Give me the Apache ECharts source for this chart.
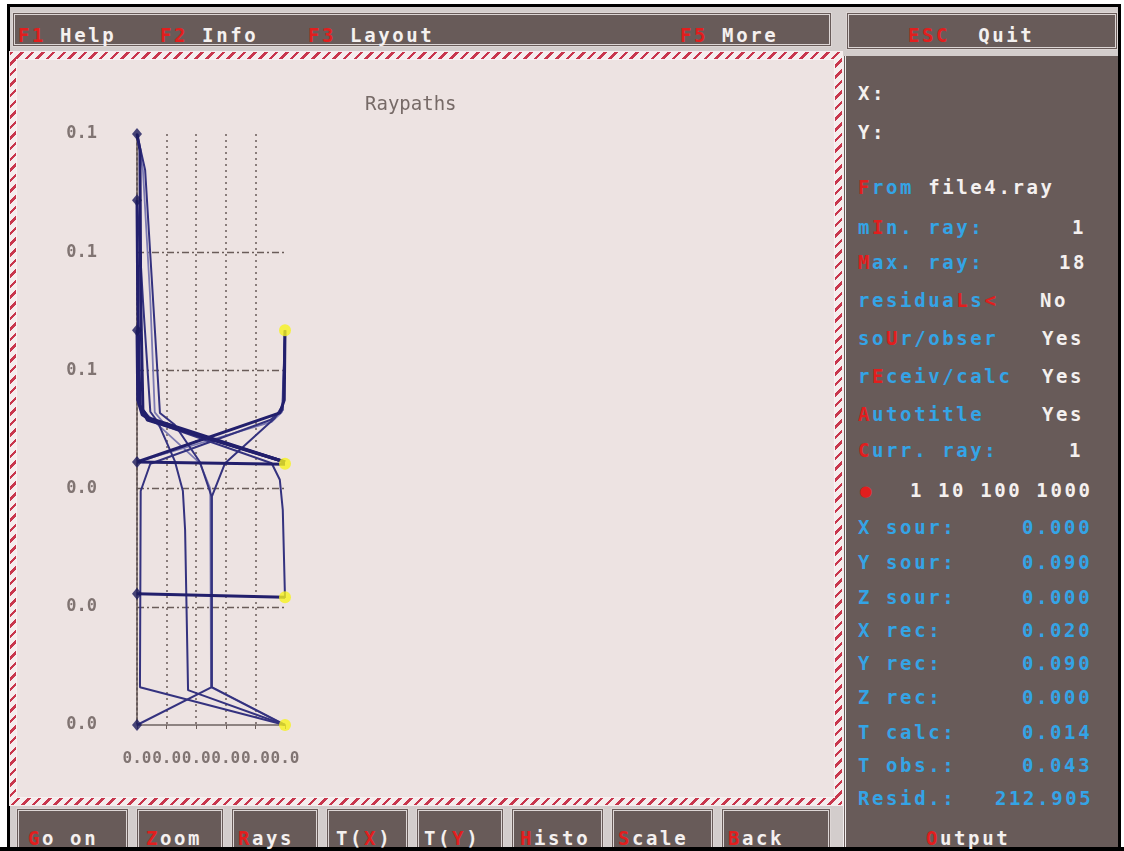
<!DOCTYPE html>
<html>
<head>
<meta charset="utf-8">
<script src="https://cdn.jsdelivr.net/npm/echarts@6/dist/echarts.min.js"></script>
<style>
  html, body { margin:0; padding:0; width:1124px; height:851px; overflow:hidden; background:#ffffff; }
  #frame { position:absolute; left:7px; top:4px; width:1114px; height:847px; background:#000; }
  #inner { position:absolute; left:10px; top:7px; width:1108px; height:840px; background:#d3cdcc; }
  .box { position:absolute; background:#685b59; box-sizing:border-box; border:3px double #ddd6d5; }
  #plot { position:absolute; left:9px; top:51px; width:834px; height:755px; box-sizing:border-box;
          border:1px solid #f6eeee;
          background:repeating-linear-gradient(135deg,#c8364c 0px,#c8364c 2.5px,#f5eded 2.5px,#f5eded 7.5px); }
  #plotIn { position:absolute; left:6px; top:7px; right:7px; bottom:7px; background:#ede3e2; border:1px solid #f8f2f2; }
  #side { position:absolute; left:843px; top:56px; width:275px; height:791px; background:#685b59;
          border-left:3px double #f2eded; box-sizing:border-box; }
  .t { position:absolute; font-family:"DejaVu Sans Mono", "Liberation Mono", monospace; font-weight:bold;
       font-size:19px; letter-spacing:2.6px; line-height:20px; white-space:pre; color:#f4f0ef; }
  .r { color:#e21e1e; }
  .c { color:#34a4e6; }
  #chart { position:absolute; left:0; top:0; width:1124px; height:851px; z-index:5; }
</style>
</head>
<body>
<div id="frame"></div>
<div id="inner"></div>
<div class="box" style="left:12px;top:12px;width:820px;height:35px;"></div>
<div class="box" style="left:846px;top:12px;width:272px;height:38px;"></div>
<div id="plot"><div id="plotIn"></div></div>
<div id="side"></div>

<div class="box" style="left:16px;top:808px;width:113px;height:44px;"></div>
<div class="box" style="left:136px;top:808px;width:88px;height:44px;"></div>
<div class="box" style="left:231px;top:808px;width:88px;height:44px;"></div>
<div class="box" style="left:326px;top:808px;width:83px;height:44px;"></div>
<div class="box" style="left:416px;top:808px;width:88px;height:44px;"></div>
<div class="box" style="left:511px;top:808px;width:93px;height:44px;"></div>
<div class="box" style="left:611px;top:808px;width:103px;height:44px;"></div>
<div class="box" style="left:721px;top:808px;width:110px;height:44px;"></div>
<div style="position:absolute;left:0;top:847px;width:1124px;height:4px;background:#000;"></div>

<!-- top menu -->
<div class="t" style="left:18px;top:25px;"><span class="r">F1</span> Help</div>
<div class="t" style="left:160px;top:25px;"><span class="r">F2</span> Info</div>
<div class="t" style="left:308px;top:25px;"><span class="r">F3</span> Layout</div>
<div class="t" style="left:680px;top:25px;"><span class="r">F5</span> More</div>
<div class="t" style="left:908px;top:25px;"><span class="r">ESC</span>  Quit</div>

<!-- side panel -->
<div class="t" style="left:858px;top:83px;">X:</div>
<div class="t" style="left:858px;top:122px;">Y:</div>
<div class="t" style="left:858px;top:177px;"><span class="r">F</span><span class="c">rom</span> file4.ray</div>
<div class="t c" style="left:858px;top:217px;">m<span class="r">I</span>n. ray:</div>
<div class="t" style="left:1072px;top:217px;">1</div>
<div class="t c" style="left:858px;top:252px;"><span class="r">M</span>ax. ray:</div>
<div class="t" style="left:1059px;top:252px;">18</div>
<div class="t c" style="left:858px;top:290px;">residua<span class="r">L</span>s<span class="r">&lt;</span></div>
<div class="t" style="left:1040px;top:290px;">No</div>
<div class="t c" style="left:858px;top:328px;">so<span class="r">U</span>r/obser</div>
<div class="t" style="left:1042px;top:328px;">Yes</div>
<div class="t c" style="left:858px;top:366px;">r<span class="r">E</span>ceiv/calc</div>
<div class="t" style="left:1042px;top:366px;">Yes</div>
<div class="t c" style="left:858px;top:404px;"><span class="r">A</span>utotitle</div>
<div class="t" style="left:1042px;top:404px;">Yes</div>
<div class="t c" style="left:858px;top:440px;"><span class="r">C</span>urr. ray:</div>
<div class="t" style="left:1069px;top:440px;">1</div>
<div class="t r" style="left:860px;top:480px;">●</div>
<div class="t" style="left:910px;top:480px;">1 10 100 1000</div>
<div class="t c" style="left:858px;top:517px;">X sour:</div>
<div class="t c" style="left:1022px;top:517px;">0.000</div>
<div class="t c" style="left:858px;top:552px;">Y sour:</div>
<div class="t c" style="left:1022px;top:552px;">0.090</div>
<div class="t c" style="left:858px;top:587px;">Z sour:</div>
<div class="t c" style="left:1022px;top:587px;">0.000</div>
<div class="t c" style="left:858px;top:620px;">X rec:</div>
<div class="t c" style="left:1022px;top:620px;">0.020</div>
<div class="t c" style="left:858px;top:653px;">Y rec:</div>
<div class="t c" style="left:1022px;top:653px;">0.090</div>
<div class="t c" style="left:858px;top:687px;">Z rec:</div>
<div class="t c" style="left:1022px;top:687px;">0.000</div>
<div class="t c" style="left:858px;top:722px;">T calc:</div>
<div class="t c" style="left:1022px;top:722px;">0.014</div>
<div class="t c" style="left:858px;top:755px;">T obs.:</div>
<div class="t c" style="left:1022px;top:755px;">0.043</div>
<div class="t c" style="left:858px;top:788px;">Resid.:</div>
<div class="t c" style="left:995px;top:788px;">212.905</div>
<div class="t" style="left:926px;top:828px;"><span class="r">O</span>utput</div>

<!-- bottom buttons -->
<div class="t" style="left:28px;top:828px;"><span class="r">G</span>o on</div>
<div class="t" style="left:146px;top:828px;"><span class="r">Z</span>oom</div>
<div class="t" style="left:238px;top:828px;"><span class="r">R</span>ays</div>
<div class="t" style="left:336px;top:828px;">T(<span class="r">X</span>)</div>
<div class="t" style="left:424px;top:828px;">T(<span class="r">Y</span>)</div>
<div class="t" style="left:520px;top:828px;"><span class="r">H</span>isto</div>
<div class="t" style="left:618px;top:828px;"><span class="r">S</span>cale</div>
<div class="t" style="left:728px;top:828px;"><span class="r">B</span>ack</div>

<div id="chart"></div>
<script>
// ---- data (x in first column, depth/y in second) ----
const sourceY   = [0.1, 0.0888, 0.0668, 0.0445, 0.0222, 0.0];
const receiverY = [0.0668, 0.0442, 0.0216, 0.0];
const sourceX   = 0.0;
const receiverX = 0.02;
const xTicks = [0, 0.004, 0.008, 0.012, 0.016, 0.02];
const yTicks = [0, 0.02, 0.04, 0.06, 0.08, 0.1];

const rayA = [[0,0.1],[0.0004,0.0973],[0.0005,0.0719],[0.0008,0.0533],[0.0015,0.052],[0.02,0.0445]];
const rayB = [[0,0.1],[0.0011,0.0939],[0.0031,0.0528],[0.0051,0.0508],[0.0085,0.0445],[0.0101,0.0386],[0.0101,0.0064],[0.02,0]];
const rayC = [[0,0.0888],[0.0001,0.0719],[0.0004,0.0541],[0.0014,0.0516],[0.02,0.0445]];
const rayD = [[0,0.0888],[0.0008,0.0719],[0.0018,0.053],[0.0028,0.0513],[0.0051,0.0447],[0.0062,0.0396],[0.0065,0.033],[0.0069,0.0059],[0.02,0]];
const rayE = [[0,0.0668],[0.0001,0.055],[0.0007,0.0525],[0.0018,0.0516],[0.02,0.0445]];
const rayF = [[0,0.0668],[0.0004,0.0541],[0.002,0.0514],[0.0182,0.0443],[0.0193,0.0415],[0.0197,0.0364],[0.02,0.0215]];
const rayG = [[0.02,0.0668],[0.0199,0.055],[0.0193,0.0528],[0,0.0445]];
const rayH = [[0.02,0.0668],[0.0197,0.0541],[0.0186,0.0519],[0.0119,0.0443],[0.0101,0.0386],[0.0101,0.0064],[0,0]];
const rayI = [[0.02,0.0668],[0.0197,0.0533],[0.018,0.0516],[0.0018,0.0442],[0.0005,0.0396],[0.0004,0.0064],[0.02,0]];
const rayJ = [[0,0.0445],[0.02,0.0441]];
const rayK = [[0,0.0222],[0.02,0.0216]];
const rayP = [[0,0.1],[0.0008,0.0939],[0.0018,0.0719],[0.0024,0.0529],[0.0038,0.0508],[0.02,0.0445]];
const rayQ = [[0.02,0.0668],[0.0196,0.053],[0.0182,0.0513],[0,0.0445]];
const rayR = [[0,0.0668],[0.0005,0.0536],[0.0024,0.0513],[0.0085,0.0443],[0.0099,0.04],[0.01,0.0064],[0.02,0]];

// ---- styles ----
const DARK = { color:'#221f6c', width:3 };
const MID  = { color:'#34327f', width:2 };
const LITE = { color:'#7c7ab2', width:1.8 };
const rayList = [
  [rayP, LITE],[rayQ, LITE],[rayR, LITE],
  [rayB, MID],[rayD, MID],[rayH, MID],[rayI, MID],[rayF, MID],
  [rayA, DARK],[rayC, DARK],[rayE, DARK],[rayG, DARK],[rayJ, DARK],[rayK, DARK]
];

const mono = '"DejaVu Sans Mono", "Liberation Mono", monospace';
const gridCol = '#6a5c59';
const fmt = v => v.toFixed(1);

const series = rayList.map(([d, st]) => ({
  type:'line', data:d, symbol:'none', smooth:false, silent:true,
  lineStyle:{ color:st.color, width:st.width }, z:3
}));
series.push({
  type:'scatter', data:sourceY.map(y => [sourceX, y]), symbol:'diamond', symbolSize:[10,12],
  itemStyle:{ color:'#1b1a5c' }, z:6, silent:true
});
series.push({
  type:'scatter', data:receiverY.map(y => [receiverX, y]), symbol:'circle', symbolSize:12,
  itemStyle:{ color:'#f6f21e' }, z:6, silent:true
});

const chart = echarts.init(document.getElementById('chart'), null, { renderer:'canvas' });
chart.setOption({
  animation:false,
  backgroundColor:'transparent',
  title:{ text:'Raypaths', left:360, top:91,
          textStyle:{ color:'#766a67', fontSize:19, fontWeight:'normal', fontFamily:mono } },
  grid:{ left:137, top:134, width:148, height:591 },
  xAxis:[
    { type:'value', position:'bottom', min:xTicks[0], max:xTicks[xTicks.length-1], interval:xTicks[1]-xTicks[0],
      axisLine:{ show:true, lineStyle:{ color:'#fbf8f8', width:2 } },
      axisTick:{ show:false },
      axisLabel:{ formatter:fmt, color:'#807472', fontSize:16, fontWeight:'bold', fontFamily:mono, margin:26,
                  hideOverlap:false, showMinLabel:true, showMaxLabel:true },
      splitLine:{ show:true, showMinLine:false, showMaxLine:false, lineStyle:{ color:gridCol, type:[2,4], width:1.5 } } },
    { type:'value', position:'top', min:xTicks[0], max:xTicks[xTicks.length-1], interval:xTicks[1]-xTicks[0],
      axisLine:{ show:true, lineStyle:{ color:gridCol, width:1.5 } },
      axisTick:{ show:true, inside:true, length:4, lineStyle:{ color:gridCol } },
      axisLabel:{ show:false }, splitLine:{ show:false } }
  ],
  yAxis:[
    { type:'value', position:'left', min:yTicks[0], max:yTicks[yTicks.length-1], interval:yTicks[1]-yTicks[0],
      axisLine:{ show:true, lineStyle:{ color:'#2e2638', type:[2,3], width:1.5 } },
      axisTick:{ show:false },
      axisLabel:{ formatter:fmt, color:'#807472', fontSize:17, fontWeight:'bold', fontFamily:mono, margin:40 },
      splitLine:{ show:true, showMinLine:false, showMaxLine:false, lineStyle:{ color:gridCol, type:[7,3,2,3], width:1.4 } } },
    { type:'value', position:'right', min:yTicks[0], max:yTicks[yTicks.length-1], interval:yTicks[1]-yTicks[0],
      axisLine:{ show:true, lineStyle:{ color:gridCol, width:1.5 } },
      axisTick:{ show:false }, axisLabel:{ show:false }, splitLine:{ show:false } }
  ],
  series: series
});
</script>
</body>
</html>
